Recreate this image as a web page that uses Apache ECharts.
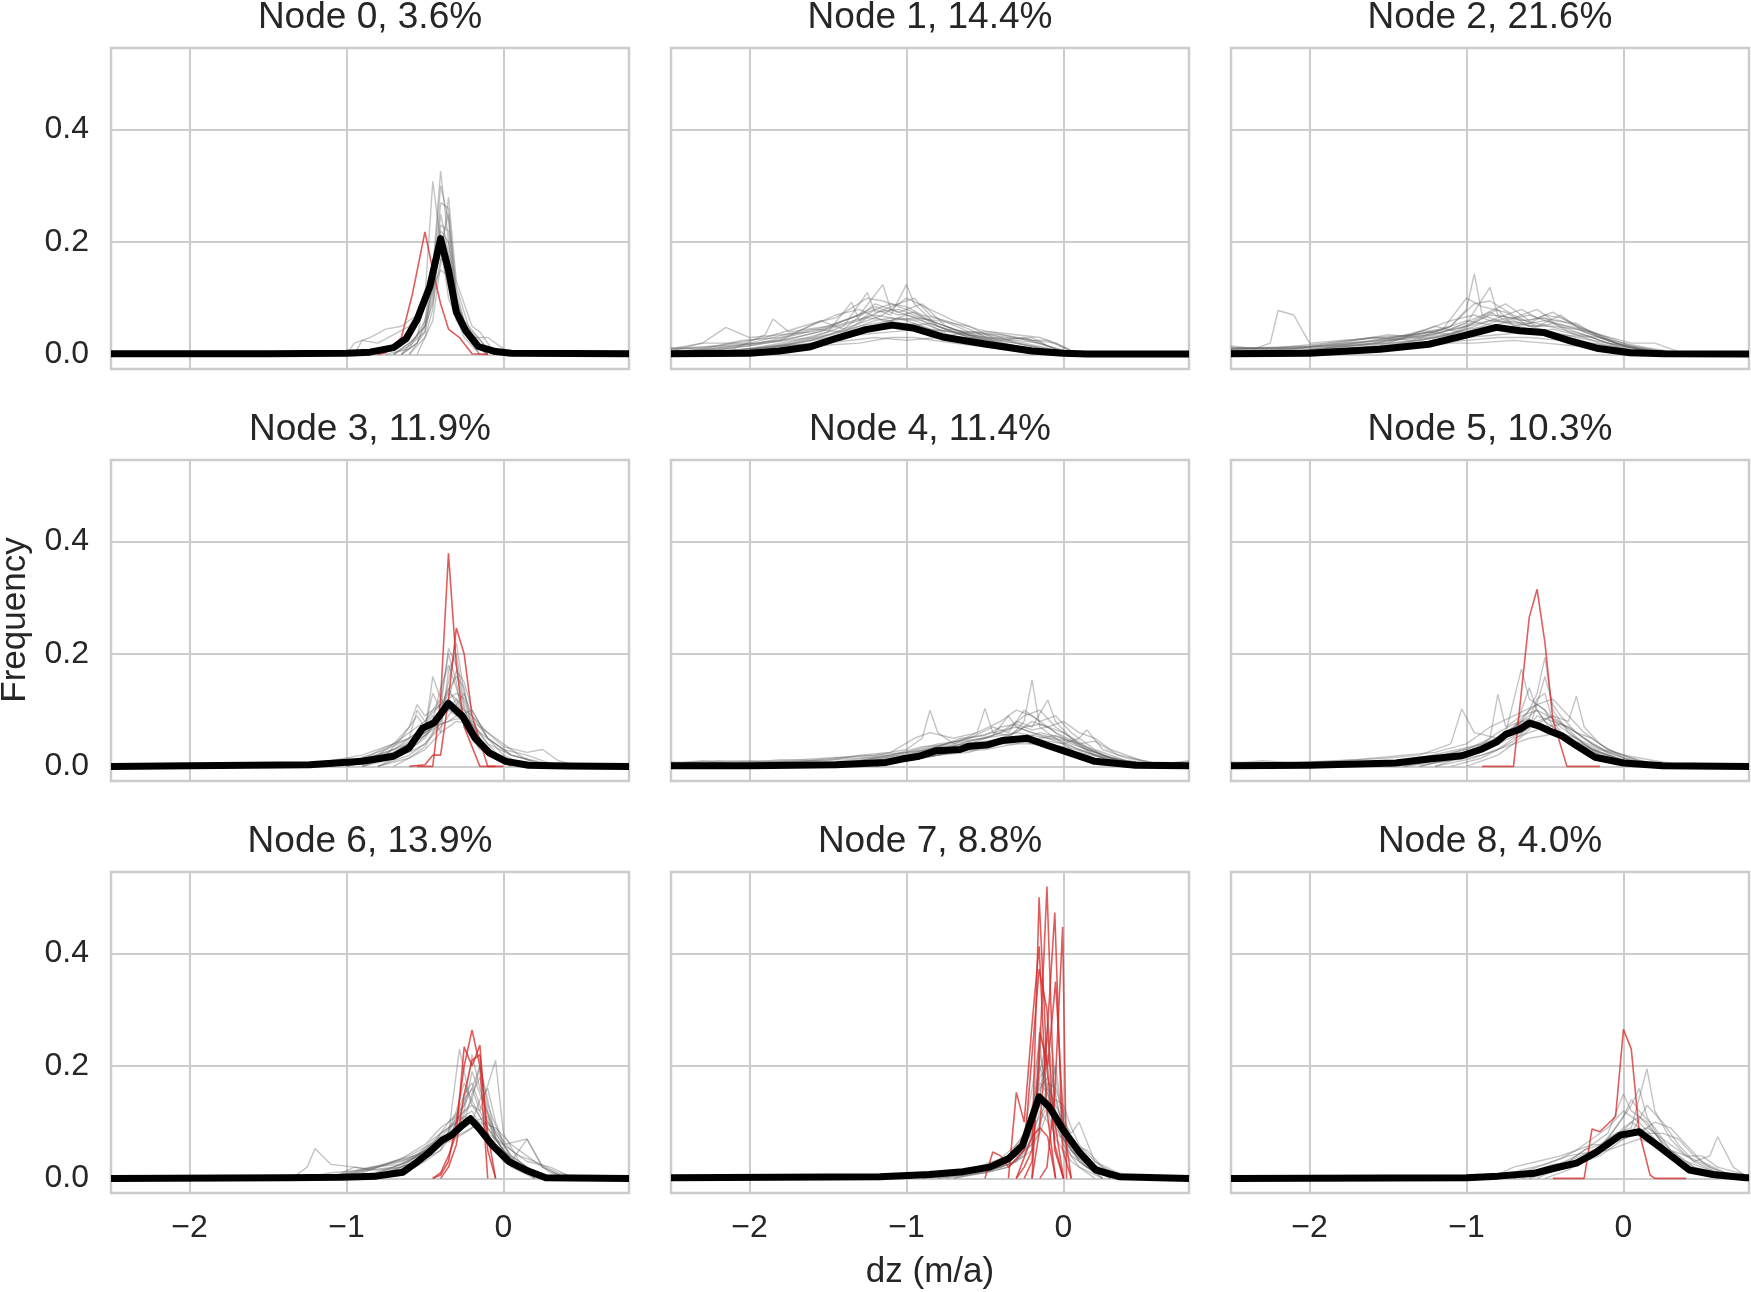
<!DOCTYPE html>
<html>
<head>
<meta charset="utf-8">
<title>Node histograms</title>
<script src="https://cdn.jsdelivr.net/npm/echarts@6/dist/echarts.min.js"></script>
<style>
  html, body { margin: 0; padding: 0; background: #fff; }
  #main { width: 1751px; height: 1292px; }
</style>
</head>
<body>
<div id="main"></div>
<script>
// panel titles
const titles = ['Node 0, 3.6%', 'Node 1, 14.4%', 'Node 2, 21.6%',
                'Node 3, 11.9%', 'Node 4, 11.4%', 'Node 5, 10.3%',
                'Node 6, 13.9%', 'Node 7, 8.8%', 'Node 8, 4.0%']
const xTicks = [-2, -1, 0]
const yTicks = [0, 0.2, 0.4]

// mean curve (black) per node, [dz, frequency]
const node0Mean = [[-2.5,0.001],[-1.5,0.001],[-1.0,0.002],[-0.85,0.004],[-0.7,0.012],[-0.62,0.028],[-0.55,0.062],[-0.47,0.12],[-0.4,0.206],[-0.35,0.15],[-0.3,0.075],[-0.24,0.042],[-0.16,0.014],[-0.05,0.005],[0.05,0.002],[0.8,0.001]]
const node1Mean = [[-2.5,0.001],[-2.0,0.002],[-1.81,0.006],[-1.62,0.013],[-1.43,0.03],[-1.26,0.044],[-1.09,0.052],[-0.96,0.047],[-0.77,0.031],[-0.49,0.018],[-0.2,0.006],[0,0.002],[0.15,0.0005],[0.8,0.0005]]
const node2Mean = [[-2.5,0.001],[-2.0,0.002],[-1.55,0.009],[-1.24,0.018],[-1.02,0.033],[-0.81,0.048],[-0.66,0.042],[-0.51,0.039],[-0.34,0.024],[-0.17,0.011],[0.04,0.003],[0.26,0.001],[0.8,0.0005]]
const node3Mean = [[-2.5,0],[-2.0,0.001],[-1.235,0.003],[-0.9,0.009],[-0.7,0.018],[-0.6,0.033],[-0.515,0.068],[-0.44,0.078],[-0.35,0.112],[-0.26,0.089],[-0.18,0.05],[-0.09,0.024],[0.015,0.009],[0.16,0.002],[0.4,0.0005],[0.8,0]]
const node4Mean = [[-2.5,0.001],[-2.0,0.001],[-1.45,0.003],[-1.13,0.007],[-1.03,0.013],[-0.92,0.018],[-0.81,0.028],[-0.66,0.03],[-0.6,0.036],[-0.49,0.038],[-0.39,0.046],[-0.23,0.05],[-0.11,0.038],[0.04,0.024],[0.2,0.009],[0.46,0.002],[0.8,0.001]]
const node5Mean = [[-2.5,0.001],[-2.0,0.002],[-1.45,0.006],[-1.24,0.013],[-1.03,0.019],[-0.9,0.031],[-0.81,0.043],[-0.75,0.057],[-0.66,0.066],[-0.6,0.077],[-0.54,0.072],[-0.47,0.063],[-0.39,0.054],[-0.3,0.037],[-0.18,0.016],[0,0.006],[0.25,0.001],[0.8,0]]
const node6Mean = [[-2.5,0],[-1.39,0.001],[-1.03,0.002],[-0.81,0.004],[-0.64,0.011],[-0.56,0.027],[-0.47,0.047],[-0.39,0.068],[-0.33,0.077],[-0.26,0.095],[-0.21,0.106],[-0.155,0.089],[-0.07,0.059],[0.035,0.03],[0.14,0.015],[0.27,0.001],[0.8,0]]
const node7Mean = [[-2.5,0.001],[-1.17,0.003],[-0.855,0.007],[-0.64,0.012],[-0.47,0.02],[-0.35,0.035],[-0.26,0.059],[-0.21,0.1],[-0.155,0.145],[-0.09,0.127],[-0.005,0.088],[0.1,0.047],[0.205,0.015],[0.355,0.003],[0.8,0]]
const node8Mean = [[-2.5,0],[-1.0,0.001],[-0.8,0.004],[-0.57,0.009],[-0.44,0.018],[-0.3,0.027],[-0.17,0.047],[-0.02,0.077],[0.1,0.083],[0.23,0.056],[0.42,0.015],[0.57,0.007],[0.78,0.001],[0.8,0.001]]

// highlighted members (red)
const node0Red = [
  [[-0.8,0],[-0.75,0.003],[-0.65,0.03],[-0.58,0.107],[-0.5,0.218],[-0.45,0.15],[-0.4,0.09],[-0.35,0.045],[-0.28,0.03],[-0.2,0.001],[-0.1,0]]
]
const node3Red = [
  [[-0.55,0],[-0.45,0],[-0.4,0.12],[-0.35,0.379],[-0.3,0.18],[-0.25,0.07],[-0.15,0],[-0.05,0]],
  [[-0.6,0],[-0.5,0.003],[-0.45,0.02],[-0.4,0.02],[-0.35,0.12],[-0.3,0.246],[-0.25,0.2],[-0.2,0.09],[-0.1,0],[0,0]]
]
const node5Red = [
  [[-0.9,0],[-0.7,0],[-0.6,0.265],[-0.55,0.315],[-0.5,0.22],[-0.45,0.084],[-0.36,0],[-0.15,0]]
]
const node6Red = [
  [[-0.45,0],[-0.4,0.01],[-0.35,0.04],[-0.3,0.08],[-0.25,0.234],[-0.2,0.2],[-0.15,0.237],[-0.1,0.05],[-0.05,0]],
  [[-0.45,0],[-0.4,0.006],[-0.35,0.03],[-0.3,0.1],[-0.25,0.2],[-0.2,0.264],[-0.15,0.2],[-0.1,0]],
  [[-0.4,0],[-0.35,0.02],[-0.3,0.06],[-0.25,0.15],[-0.2,0.21],[-0.15,0.22],[-0.1,0.08],[-0.05,0]]
]
const node7Red = [
  [[-0.3,0],[-0.25,0.02],[-0.2,0.05],[-0.155,0.5],[-0.105,0.2],[-0.055,0.06],[0,0]],
  [[-0.25,0],[-0.2,0.03],[-0.155,0.2],[-0.105,0.519],[-0.055,0.1],[0,0]],
  [[-0.2,0],[-0.155,0.08],[-0.105,0.25],[-0.055,0.473],[-0.005,0.05],[0.05,0]],
  [[-0.15,0],[-0.105,0.02],[-0.055,0.15],[-0.005,0.447],[0.02,0]],
  [[-0.35,0],[-0.3,0.153],[-0.25,0.1],[-0.2,0.274],[-0.155,0.413],[-0.105,0.12],[-0.05,0]],
  [[-0.5,0],[-0.45,0.047],[-0.4,0.04],[-0.35,0.02],[-0.25,0.05],[-0.155,0.372],[-0.105,0.3],[-0.055,0.05],[0,0]],
  [[-0.2,0],[-0.15,0.26],[-0.1,0.2],[-0.05,0.35],[0,0.1],[0.05,0]],
  [[-0.3,0],[-0.2,0.074],[-0.15,0.09],[-0.1,0.074],[-0.05,0]]
]
const node8Red = [
  [[-0.45,0],[-0.25,0],[-0.2,0.088],[-0.15,0.083],[-0.05,0.11],[0,0.265],[0.05,0.23],[0.1,0.083],[0.17,0.006],[0.2,0],[0.4,0]]
]

// other members (grey)
const node0Gray = [
  [[-0.75,0],[-0.6,0.01],[-0.5,0.06],[-0.45,0.15],[-0.4,0.326],[-0.35,0.2],[-0.3,0.08],[-0.2,0.02],[-0.1,0]],
  [[-0.7,0],[-0.55,0.03],[-0.5,0.1],[-0.45,0.308],[-0.4,0.2],[-0.35,0.1],[-0.25,0.03],[-0.15,0]],
  [[-0.65,0],[-0.5,0.05],[-0.45,0.12],[-0.4,0.27],[-0.35,0.26],[-0.3,0.1],[-0.2,0.02],[-0.1,0]],
  [[-1.0,0],[-0.95,0.02],[-0.85,0.03],[-0.75,0.045],[-0.65,0.05],[-0.55,0.07],[-0.45,0.13],[-0.4,0.18],[-0.35,0.12],[-0.3,0.06],[-0.2,0.02],[-0.1,0]],
  [[-0.95,0],[-0.9,0.025],[-0.8,0.02],[-0.7,0.035],[-0.6,0.05],[-0.5,0.09],[-0.4,0.15],[-0.35,0.14],[-0.25,0.05],[-0.15,0.01],[-0.05,0]],
  [[-0.6,0],[-0.5,0.03],[-0.45,0.08],[-0.4,0.23],[-0.35,0.22],[-0.3,0.11],[-0.25,0.06],[-0.1,0.01],[0,0]],
  [[-0.6,0],[-0.5,0.04],[-0.45,0.1],[-0.4,0.25],[-0.35,0.18],[-0.3,0.07],[-0.2,0.04],[-0.1,0.01],[0,0]],
  [[-0.55,0],[-0.45,0.06],[-0.4,0.16],[-0.35,0.28],[-0.3,0.13],[-0.2,0.05],[-0.15,0.04],[-0.05,0]],
  [[-0.65,0],[-0.55,0.02],[-0.5,0.05],[-0.45,0.09],[-0.4,0.17],[-0.35,0.16],[-0.3,0.09],[-0.2,0.03],[-0.1,0.03],[0.05,0]],
  [[-0.7,0],[-0.6,0.015],[-0.5,0.04],[-0.45,0.14],[-0.4,0.3],[-0.35,0.24],[-0.3,0.08],[-0.25,0.04],[-0.15,0]],
  [[-0.65,0],[-0.55,0.02],[-0.5,0.06],[-0.45,0.12],[-0.4,0.22],[-0.35,0.2],[-0.3,0.1],[-0.25,0.05],[-0.15,0.01],[-0.05,0]],
  [[-0.7,0],[-0.6,0.02],[-0.5,0.05],[-0.45,0.11],[-0.4,0.19],[-0.35,0.25],[-0.3,0.12],[-0.2,0.03],[-0.1,0]]
]
const node1Gray = [
  [[-2.5,0.01],[-2.3,0.02],[-2.15,0.048],[-2.0,0.03],[-1.8,0.035],[-1.6,0.04],[-1.4,0.055],[-1.2,0.07],[-1.0,0.06],[-0.8,0.04],[-0.6,0.02],[-0.4,0.01],[-0.2,0.005],[0,0]],
  [[-2.5,0.005],[-2.1,0.01],[-1.9,0.035],[-1.85,0.063],[-1.75,0.04],[-1.5,0.05],[-1.3,0.07],[-1.15,0.124],[-1.1,0.08],[-0.9,0.06],[-0.7,0.03],[-0.4,0.015],[0,0.002]],
  [[-2.4,0],[-2.0,0.01],[-1.7,0.025],[-1.5,0.04],[-1.35,0.093],[-1.3,0.06],[-1.2,0.08],[-1.1,0.07],[-1.0,0.124],[-0.95,0.09],[-0.8,0.05],[-0.6,0.03],[-0.3,0.02],[0,0.003]],
  [[-2.5,0.003],[-2.2,0.008],[-1.9,0.02],[-1.6,0.03],[-1.4,0.05],[-1.25,0.11],[-1.2,0.075],[-1.05,0.08],[-0.9,0.065],[-0.7,0.045],[-0.5,0.03],[-0.3,0.02],[-0.1,0.01],[0.1,0]],
  [[-2.5,0.002],[-2.0,0.015],[-1.7,0.03],[-1.5,0.045],[-1.3,0.06],[-1.1,0.085],[-0.95,0.1],[-0.85,0.07],[-0.6,0.04],[-0.4,0.035],[-0.2,0.025],[-0.05,0.02],[0.1,0]],
  [[-2.4,0],[-2.0,0.005],[-1.6,0.02],[-1.3,0.035],[-1.1,0.04],[-0.9,0.045],[-0.7,0.04],[-0.5,0.03],[-0.3,0.025],[-0.15,0.02],[0.05,0]],
  [[-2.5,0.004],[-2.2,0.012],[-1.8,0.025],[-1.55,0.06],[-1.4,0.045],[-1.2,0.09],[-1.05,0.075],[-0.9,0.09],[-0.75,0.05],[-0.5,0.025],[-0.2,0.01],[0,0]],
  [[-2.3,0],[-1.9,0.01],[-1.6,0.025],[-1.35,0.05],[-1.15,0.07],[-1.0,0.1],[-0.85,0.08],[-0.7,0.06],[-0.55,0.045],[-0.3,0.03],[-0.1,0.015],[0.1,0]],
  [[-2.5,0.006],[-2.3,0.02],[-2.0,0.02],[-1.7,0.04],[-1.45,0.07],[-1.3,0.08],[-1.15,0.06],[-1.0,0.055],[-0.8,0.035],[-0.5,0.02],[-0.3,0.008],[0,0]],
  [[-2.4,0],[-1.8,0.015],[-1.5,0.02],[-1.2,0.03],[-1.0,0.025],[-0.8,0.03],[-0.6,0.04],[-0.45,0.04],[-0.3,0.035],[-0.15,0.03],[-0.05,0.02],[0.1,0]],
  [[-2.5,0.01],[-2.2,0.015],[-1.9,0.03],[-1.6,0.055],[-1.45,0.065],[-1.25,0.1],[-1.15,0.095],[-1.0,0.08],[-0.8,0.055],[-0.6,0.035],[-0.35,0.015],[0,0]],
  [[-2.3,0],[-1.9,0.008],[-1.6,0.015],[-1.3,0.02],[-1.1,0.03],[-0.95,0.03],[-0.7,0.02],[-0.4,0.01],[0,0]],
  [[-2.5,0.008],[-2.2,0.015],[-1.95,0.02],[-1.7,0.035],[-1.5,0.05],[-1.35,0.065],[-1.2,0.085],[-1.05,0.07],[-0.95,0.075],[-0.8,0.05],[-0.6,0.03],[-0.4,0.02],[-0.2,0.01],[0,0.002]],
  [[-2.5,0.002],[-2.1,0.006],[-1.8,0.015],[-1.55,0.03],[-1.35,0.045],[-1.2,0.06],[-1.1,0.065],[-0.95,0.06],[-0.8,0.045],[-0.65,0.035],[-0.45,0.03],[-0.25,0.02],[-0.05,0.008],[0.1,0]],
  [[-2.4,0],[-2.0,0.01],[-1.7,0.02],[-1.5,0.03],[-1.3,0.045],[-1.15,0.055],[-1.0,0.05],[-0.85,0.055],[-0.7,0.04],[-0.55,0.03],[-0.4,0.025],[-0.25,0.03],[-0.15,0.02],[0,0.005]],
  [[-2.5,0.005],[-2.25,0.01],[-2.0,0.018],[-1.75,0.028],[-1.55,0.04],[-1.4,0.06],[-1.25,0.075],[-1.1,0.09],[-1.0,0.085],[-0.9,0.07],[-0.75,0.06],[-0.6,0.045],[-0.45,0.025],[-0.3,0.015],[0,0]],
  [[-2.5,0.004],[-2.0,0.008],[-1.75,0.02],[-1.5,0.035],[-1.3,0.05],[-1.1,0.06],[-0.95,0.065],[-0.8,0.06],[-0.6,0.05],[-0.45,0.03],[-0.3,0.028],[-0.2,0.03],[-0.1,0.015],[0.05,0]],
  [[-2.3,0],[-2.0,0.005],[-1.7,0.012],[-1.45,0.025],[-1.25,0.04],[-1.1,0.05],[-0.95,0.055],[-0.85,0.045],[-0.7,0.04],[-0.5,0.035],[-0.35,0.03],[-0.2,0.025],[-0.1,0.025],[0.05,0.005],[0.15,0]],
  [[-2.5,0.012],[-2.3,0.01],[-2.05,0.025],[-1.8,0.03],[-1.6,0.045],[-1.4,0.04],[-1.25,0.065],[-1.1,0.06],[-1.0,0.07],[-0.85,0.06],[-0.65,0.04],[-0.5,0.02],[-0.3,0.01],[0,0]],
  [[-2.5,0.003],[-2.2,0.005],[-1.9,0.012],[-1.6,0.02],[-1.4,0.03],[-1.2,0.05],[-1.05,0.065],[-0.9,0.06],[-0.75,0.045],[-0.6,0.04],[-0.45,0.035],[-0.3,0.02],[-0.15,0.01],[0.05,0]]
]
const node2Gray = [
  [[-2.5,0.015],[-2.35,0.01],[-2.25,0.02],[-2.2,0.078],[-2.1,0.07],[-2.0,0.02],[-1.8,0.025],[-1.5,0.03],[-1.2,0.04],[-1.0,0.06],[-0.8,0.05],[-0.5,0.04],[-0.2,0.02],[0.1,0.005],[0.3,0]],
  [[-2.5,0.01],[-2.0,0.015],[-1.6,0.03],[-1.3,0.035],[-1.1,0.05],[-1.0,0.08],[-0.95,0.143],[-0.9,0.07],[-0.8,0.06],[-0.6,0.045],[-0.4,0.03],[-0.2,0.015],[0.1,0]],
  [[-2.5,0.005],[-2.0,0.008],[-1.7,0.02],[-1.4,0.03],[-1.2,0.035],[-1.0,0.055],[-0.85,0.119],[-0.8,0.07],[-0.65,0.06],[-0.5,0.065],[-0.35,0.04],[-0.15,0.02],[0.1,0.003],[0.3,0]],
  [[-2.5,0.012],[-2.2,0.01],[-1.9,0.015],[-1.6,0.025],[-1.35,0.035],[-1.1,0.045],[-0.9,0.07],[-0.75,0.09],[-0.6,0.06],[-0.45,0.075],[-0.3,0.05],[-0.1,0.025],[0.1,0.01],[0.35,0]],
  [[-2.5,0],[-2.0,0.005],[-1.5,0.015],[-1.2,0.03],[-1.0,0.04],[-0.8,0.06],[-0.6,0.055],[-0.5,0.07],[-0.4,0.065],[-0.2,0.04],[0,0.015],[0.2,0.005],[0.4,0]],
  [[-2.5,0.008],[-2.1,0.005],[-1.8,0.015],[-1.5,0.02],[-1.3,0.04],[-1.15,0.045],[-1.0,0.1],[-0.9,0.085],[-0.75,0.075],[-0.6,0.05],[-0.4,0.035],[-0.2,0.03],[0,0.01],[0.3,0]],
  [[-2.5,0.003],[-2.0,0.008],[-1.7,0.01],[-1.4,0.02],[-1.2,0.02],[-1.0,0.025],[-0.8,0.03],[-0.6,0.03],[-0.4,0.025],[-0.2,0.02],[0,0.01],[0.25,0]],
  [[-2.4,0],[-1.9,0.01],[-1.6,0.02],[-1.4,0.03],[-1.2,0.05],[-1.05,0.04],[-0.9,0.065],[-0.8,0.08],[-0.7,0.05],[-0.5,0.06],[-0.3,0.045],[-0.15,0.035],[0.05,0.02],[0.2,0.02],[0.4,0]],
  [[-2.5,0.01],[-2.2,0.012],[-1.9,0.02],[-1.6,0.03],[-1.35,0.025],[-1.15,0.04],[-1.0,0.05],[-0.85,0.07],[-0.7,0.065],[-0.55,0.08],[-0.45,0.06],[-0.3,0.055],[-0.15,0.03],[0.05,0.01],[0.3,0]],
  [[-2.4,0],[-1.8,0.005],[-1.4,0.01],[-1.1,0.02],[-0.95,0.02],[-0.7,0.025],[-0.5,0.02],[-0.3,0.015],[0,0.005],[0.2,0]],
  [[-2.5,0.006],[-2.1,0.01],[-1.8,0.02],[-1.5,0.035],[-1.3,0.03],[-1.1,0.05],[-0.95,0.09],[-0.85,0.095],[-0.7,0.07],[-0.55,0.05],[-0.4,0.07],[-0.25,0.04],[-0.05,0.02],[0.15,0.01],[0.4,0]],
  [[-2.5,0.01],[-2.2,0.012],[-1.9,0.015],[-1.6,0.02],[-1.35,0.03],[-1.15,0.04],[-1.0,0.05],[-0.85,0.06],[-0.7,0.055],[-0.55,0.05],[-0.45,0.055],[-0.3,0.04],[-0.15,0.025],[0.05,0.008],[0.3,0]],
  [[-2.5,0.004],[-2.0,0.006],[-1.7,0.012],[-1.4,0.022],[-1.2,0.03],[-1.0,0.045],[-0.85,0.05],[-0.7,0.06],[-0.6,0.05],[-0.45,0.05],[-0.3,0.045],[-0.15,0.03],[0,0.015],[0.2,0.003],[0.4,0]],
  [[-2.5,0.006],[-2.2,0.008],[-1.9,0.012],[-1.6,0.018],[-1.3,0.025],[-1.1,0.035],[-0.95,0.06],[-0.85,0.075],[-0.75,0.06],[-0.6,0.07],[-0.5,0.06],[-0.35,0.05],[-0.2,0.04],[-0.05,0.02],[0.15,0.005],[0.35,0]],
  [[-2.5,0.012],[-2.1,0.01],[-1.8,0.02],[-1.5,0.025],[-1.25,0.03],[-1.05,0.04],[-0.9,0.045],[-0.75,0.05],[-0.6,0.045],[-0.45,0.04],[-0.3,0.03],[-0.1,0.02],[0.1,0.01],[0.3,0.003],[0.5,0]],
  [[-2.4,0],[-2.0,0.008],[-1.7,0.015],[-1.45,0.025],[-1.25,0.04],[-1.1,0.035],[-0.95,0.05],[-0.8,0.065],[-0.65,0.08],[-0.55,0.065],[-0.4,0.06],[-0.25,0.045],[-0.1,0.03],[0.05,0.015],[0.25,0.005],[0.45,0]],
  [[-2.5,0.002],[-2.2,0.004],[-1.8,0.01],[-1.5,0.015],[-1.2,0.02],[-1.0,0.03],[-0.8,0.035],[-0.6,0.04],[-0.45,0.045],[-0.3,0.035],[-0.15,0.03],[0,0.02],[0.15,0.012],[0.35,0.003],[0.55,0]],
  [[-2.5,0.008],[-2.3,0.01],[-2.0,0.012],[-1.7,0.02],[-1.45,0.03],[-1.25,0.045],[-1.1,0.06],[-0.95,0.07],[-0.85,0.06],[-0.7,0.065],[-0.55,0.055],[-0.4,0.045],[-0.25,0.035],[-0.1,0.02],[0.1,0.01],[0.3,0]]
]
const node3Gray = [
  [[-1.3,0],[-1.0,0.005],[-0.8,0.02],[-0.7,0.04],[-0.6,0.06],[-0.5,0.08],[-0.45,0.1],[-0.4,0.12],[-0.35,0.2],[-0.3,0.15],[-0.25,0.07],[-0.15,0.03],[0,0.01],[0.2,0]],
  [[-1.1,0],[-0.9,0.01],[-0.75,0.02],[-0.65,0.05],[-0.55,0.09],[-0.5,0.07],[-0.45,0.13],[-0.4,0.1],[-0.35,0.14],[-0.3,0.11],[-0.2,0.06],[-0.1,0.02],[0.05,0.005],[0.2,0]],
  [[-0.9,0],[-0.75,0.01],[-0.6,0.03],[-0.5,0.05],[-0.4,0.09],[-0.35,0.15],[-0.3,0.22],[-0.25,0.13],[-0.2,0.08],[-0.1,0.04],[0,0.01],[0.15,0]],
  [[-1.0,0],[-0.8,0.015],[-0.7,0.03],[-0.6,0.045],[-0.5,0.06],[-0.4,0.08],[-0.35,0.11],[-0.3,0.1],[-0.25,0.09],[-0.15,0.06],[-0.05,0.04],[0.05,0.02],[0.2,0.01],[0.35,0]],
  [[-1.2,0],[-1.0,0.008],[-0.8,0.02],[-0.6,0.04],[-0.5,0.06],[-0.45,0.16],[-0.4,0.12],[-0.35,0.1],[-0.3,0.09],[-0.2,0.07],[-0.1,0.03],[0.05,0.01],[0.2,0]],
  [[-0.8,0],[-0.6,0.02],[-0.5,0.04],[-0.45,0.06],[-0.4,0.1],[-0.35,0.21],[-0.3,0.18],[-0.25,0.1],[-0.15,0.05],[-0.05,0.02],[0.1,0]],
  [[-1.0,0],[-0.85,0.01],[-0.7,0.025],[-0.55,0.05],[-0.45,0.07],[-0.35,0.08],[-0.3,0.09],[-0.2,0.1],[-0.1,0.05],[0,0.03],[0.15,0.02],[0.35,0]],
  [[-0.9,0],[-0.7,0.02],[-0.6,0.035],[-0.5,0.055],[-0.4,0.09],[-0.35,0.12],[-0.3,0.13],[-0.25,0.12],[-0.2,0.07],[-0.1,0.03],[0.05,0.01],[0.3,0]],
  [[-1.2,0],[-0.95,0.01],[-0.75,0.03],[-0.6,0.05],[-0.55,0.1],[-0.5,0.08],[-0.4,0.11],[-0.3,0.16],[-0.25,0.14],[-0.2,0.06],[-0.1,0.02],[0.1,0]],
  [[-0.8,0],[-0.65,0.02],[-0.55,0.04],[-0.45,0.07],[-0.35,0.1],[-0.3,0.12],[-0.25,0.1],[-0.2,0.09],[-0.1,0.06],[0,0.04],[0.1,0.02],[0.2,0.005],[0.4,0]],
  [[-0.7,0],[-0.5,0.03],[-0.4,0.06],[-0.35,0.17],[-0.3,0.2],[-0.25,0.11],[-0.2,0.05],[-0.1,0.02],[0.05,0]],
  [[-1.1,0],[-0.9,0.012],[-0.7,0.03],[-0.55,0.06],[-0.45,0.09],[-0.4,0.06],[-0.3,0.08],[-0.2,0.075],[-0.1,0.04],[0.05,0.02],[0.25,0.005],[0.4,0]],
  [[-1.4,0],[-1.1,0.01],[-0.9,0.02],[-0.75,0.035],[-0.6,0.05],[-0.5,0.07],[-0.4,0.1],[-0.35,0.13],[-0.3,0.12],[-0.25,0.08],[-0.15,0.04],[-0.05,0.02],[0.1,0.005],[0.3,0]],
  [[-1.0,0],[-0.8,0.012],[-0.65,0.03],[-0.55,0.045],[-0.45,0.08],[-0.4,0.14],[-0.35,0.18],[-0.3,0.14],[-0.25,0.09],[-0.15,0.04],[0,0.01],[0.2,0]],
  [[-0.9,0],[-0.75,0.015],[-0.6,0.025],[-0.5,0.04],[-0.4,0.07],[-0.35,0.09],[-0.3,0.11],[-0.25,0.13],[-0.2,0.09],[-0.1,0.05],[0.05,0.02],[0.2,0.008],[0.35,0]],
  [[-1.1,0],[-0.85,0.02],[-0.7,0.04],[-0.6,0.07],[-0.55,0.11],[-0.5,0.09],[-0.45,0.1],[-0.35,0.12],[-0.3,0.1],[-0.2,0.05],[-0.1,0.02],[0.05,0]],
  [[-0.8,0],[-0.6,0.015],[-0.5,0.035],[-0.4,0.08],[-0.35,0.12],[-0.3,0.17],[-0.25,0.15],[-0.2,0.1],[-0.1,0.05],[0,0.02],[0.15,0]],
  [[-1.2,0],[-1.0,0.006],[-0.85,0.015],[-0.7,0.025],[-0.6,0.04],[-0.5,0.055],[-0.4,0.075],[-0.3,0.085],[-0.2,0.08],[-0.1,0.06],[0,0.035],[0.15,0.025],[0.25,0.03],[0.35,0.01],[0.5,0]]
]
const node4Gray = [
  [[-2.5,0.005],[-2.2,0.01],[-1.9,0.008],[-1.5,0.015],[-1.2,0.02],[-1.0,0.03],[-0.9,0.05],[-0.85,0.1],[-0.8,0.06],[-0.7,0.04],[-0.5,0.05],[-0.3,0.06],[-0.1,0.05],[0.1,0.03],[0.3,0.01],[0.5,0]],
  [[-1.8,0],[-1.4,0.01],[-1.1,0.02],[-0.9,0.035],[-0.7,0.04],[-0.55,0.06],[-0.5,0.103],[-0.45,0.06],[-0.3,0.07],[-0.2,0.06],[-0.05,0.05],[0.1,0.02],[0.3,0.005],[0.5,0]],
  [[-1.6,0],[-1.2,0.01],[-0.9,0.02],[-0.7,0.03],[-0.5,0.04],[-0.35,0.05],[-0.25,0.08],[-0.2,0.154],[-0.15,0.07],[-0.05,0.05],[0.1,0.03],[0.3,0.01],[0.5,0]],
  [[-1.5,0],[-1.2,0.015],[-1.0,0.02],[-0.8,0.035],[-0.6,0.04],[-0.4,0.06],[-0.3,0.08],[-0.2,0.07],[-0.1,0.118],[-0.05,0.08],[0.05,0.05],[0.15,0.03],[0.3,0.015],[0.5,0]],
  [[-1.4,0],[-1.0,0.01],[-0.8,0.02],[-0.6,0.03],[-0.4,0.04],[-0.2,0.05],[0,0.04],[0.1,0.05],[0.15,0.065],[0.25,0.03],[0.4,0.015],[0.6,0.005],[0.8,0.008]],
  [[-1.6,0],[-1.3,0.01],[-1.0,0.025],[-0.8,0.04],[-0.65,0.045],[-0.5,0.05],[-0.35,0.065],[-0.25,0.09],[-0.15,0.1],[-0.05,0.07],[0.1,0.04],[0.25,0.02],[0.45,0.005],[0.6,0]],
  [[-1.2,0],[-0.9,0.015],[-0.7,0.025],[-0.5,0.03],[-0.3,0.04],[-0.15,0.04],[0,0.035],[0.15,0.025],[0.35,0.01],[0.6,0.003],[0.8,0.01]],
  [[-2.5,0.005],[-2.3,0.01],[-2.1,0.005],[-1.8,0.012],[-1.5,0.01],[-1.3,0.02],[-1.1,0.025],[-0.95,0.05],[-0.85,0.06],[-0.7,0.05],[-0.55,0.06],[-0.4,0.08],[-0.3,0.1],[-0.2,0.09],[-0.05,0.06],[0.1,0.04],[0.25,0.02],[0.4,0.005],[0.6,0]],
  [[-1.5,0],[-1.2,0.012],[-0.95,0.02],[-0.75,0.04],[-0.6,0.05],[-0.45,0.07],[-0.35,0.06],[-0.25,0.1],[-0.15,0.08],[-0.05,0.09],[0.05,0.06],[0.2,0.03],[0.4,0.01],[0.7,0]],
  [[-1.3,0],[-1.0,0.01],[-0.8,0.02],[-0.6,0.025],[-0.45,0.04],[-0.3,0.045],[-0.15,0.06],[0,0.05],[0.1,0.04],[0.2,0.045],[0.35,0.02],[0.55,0.008],[0.8,0.005]],
  [[-2.5,0.003],[-2.0,0.005],[-1.6,0.01],[-1.3,0.015],[-1.1,0.02],[-0.9,0.03],[-0.75,0.04],[-0.6,0.05],[-0.45,0.06],[-0.35,0.055],[-0.25,0.07],[-0.15,0.075],[0,0.06],[0.15,0.035],[0.3,0.015],[0.5,0.005],[0.8,0]],
  [[-1.7,0],[-1.4,0.008],[-1.15,0.015],[-0.95,0.025],[-0.8,0.035],[-0.65,0.05],[-0.5,0.055],[-0.4,0.07],[-0.3,0.075],[-0.2,0.065],[-0.1,0.07],[0,0.05],[0.15,0.03],[0.35,0.01],[0.6,0]],
  [[-1.5,0],[-1.2,0.01],[-1.0,0.015],[-0.8,0.02],[-0.6,0.035],[-0.45,0.045],[-0.3,0.06],[-0.2,0.08],[-0.1,0.07],[0,0.08],[0.1,0.06],[0.2,0.05],[0.3,0.03],[0.5,0.01],[0.7,0]],
  [[-2.5,0.008],[-2.3,0.006],[-2.0,0.01],[-1.7,0.008],[-1.45,0.015],[-1.2,0.02],[-1.0,0.025],[-0.8,0.03],[-0.65,0.04],[-0.5,0.045],[-0.35,0.05],[-0.2,0.04],[-0.05,0.03],[0.1,0.025],[0.3,0.012],[0.55,0.005],[0.8,0.003]],
  [[-1.4,0],[-1.1,0.012],[-0.9,0.025],[-0.75,0.03],[-0.6,0.045],[-0.45,0.055],[-0.35,0.09],[-0.3,0.07],[-0.2,0.06],[-0.1,0.05],[0.05,0.045],[0.2,0.02],[0.4,0.008],[0.6,0]],
  [[-1.2,0],[-1.0,0.01],[-0.8,0.02],[-0.6,0.03],[-0.4,0.04],[-0.3,0.04],[-0.15,0.05],[-0.05,0.055],[0.05,0.04],[0.15,0.03],[0.25,0.02],[0.4,0.01],[0.6,0.005],[0.8,0]]
]
const node5Gray = [
  [[-2.5,0.005],[-2.3,0.01],[-2.1,0.006],[-1.8,0.01],[-1.5,0.015],[-1.3,0.02],[-1.1,0.04],[-1.03,0.102],[-0.95,0.06],[-0.8,0.05],[-0.6,0.08],[-0.5,0.07],[-0.35,0.04],[-0.2,0.02],[0,0.005],[0.2,0]],
  [[-1.6,0],[-1.3,0.01],[-1.0,0.03],[-0.85,0.05],[-0.8,0.128],[-0.75,0.07],[-0.65,0.09],[-0.55,0.1],[-0.45,0.06],[-0.3,0.04],[-0.1,0.02],[0.1,0]],
  [[-1.4,0],[-1.1,0.015],[-0.9,0.03],[-0.75,0.06],[-0.65,0.173],[-0.6,0.12],[-0.5,0.1],[-0.4,0.07],[-0.3,0.05],[-0.15,0.02],[0.05,0]],
  [[-1.5,0],[-1.2,0.01],[-1.0,0.025],[-0.85,0.04],[-0.7,0.07],[-0.6,0.1],[-0.55,0.13],[-0.5,0.194],[-0.45,0.1],[-0.35,0.06],[-0.2,0.03],[0,0.01],[0.2,0]],
  [[-1.3,0],[-1.0,0.02],[-0.8,0.04],[-0.65,0.06],[-0.55,0.08],[-0.45,0.09],[-0.35,0.08],[-0.3,0.125],[-0.25,0.07],[-0.15,0.04],[0,0.015],[0.2,0]],
  [[-1.2,0],[-0.95,0.015],[-0.8,0.03],[-0.7,0.045],[-0.6,0.07],[-0.55,0.09],[-0.45,0.08],[-0.35,0.07],[-0.2,0.04],[-0.05,0.02],[0.15,0.005],[0.35,0]],
  [[-1.6,0],[-1.3,0.008],[-1.0,0.02],[-0.8,0.05],[-0.7,0.06],[-0.6,0.14],[-0.55,0.1],[-0.45,0.085],[-0.35,0.07],[-0.25,0.05],[-0.1,0.025],[0.1,0.005],[0.3,0]],
  [[-1.4,0],[-1.1,0.01],[-0.9,0.02],[-0.7,0.04],[-0.6,0.05],[-0.5,0.055],[-0.4,0.06],[-0.3,0.05],[-0.15,0.03],[0,0.02],[0.2,0.01],[0.45,0]],
  [[-2.5,0.008],[-2.3,0.005],[-2.0,0.008],[-1.7,0.012],[-1.4,0.02],[-1.2,0.025],[-1.0,0.04],[-0.85,0.07],[-0.7,0.09],[-0.55,0.11],[-0.45,0.12],[-0.35,0.09],[-0.25,0.06],[-0.1,0.03],[0.1,0.01],[0.3,0]],
  [[-1.0,0],[-0.8,0.02],[-0.7,0.04],[-0.6,0.065],[-0.5,0.16],[-0.45,0.11],[-0.4,0.09],[-0.3,0.06],[-0.2,0.04],[-0.05,0.015],[0.1,0]],
  [[-1.5,0],[-1.2,0.012],[-1.0,0.025],[-0.85,0.045],[-0.75,0.06],[-0.65,0.08],[-0.6,0.09],[-0.55,0.1],[-0.5,0.08],[-0.4,0.06],[-0.3,0.045],[-0.15,0.025],[0,0.01],[0.2,0]],
  [[-1.3,0],[-1.05,0.015],[-0.9,0.03],[-0.8,0.045],[-0.7,0.06],[-0.6,0.1],[-0.55,0.11],[-0.5,0.1],[-0.45,0.07],[-0.35,0.05],[-0.2,0.03],[-0.05,0.01],[0.15,0]],
  [[-1.7,0],[-1.4,0.01],[-1.15,0.02],[-0.95,0.035],[-0.8,0.05],[-0.7,0.065],[-0.65,0.08],[-0.55,0.075],[-0.45,0.09],[-0.35,0.065],[-0.25,0.04],[-0.1,0.02],[0.1,0.005],[0.3,0]],
  [[-1.2,0],[-1.0,0.02],[-0.85,0.04],[-0.75,0.055],[-0.65,0.075],[-0.6,0.085],[-0.55,0.12],[-0.5,0.13],[-0.45,0.08],[-0.35,0.045],[-0.25,0.03],[-0.1,0.015],[0.1,0]],
  [[-1.8,0],[-1.5,0.008],[-1.25,0.018],[-1.05,0.03],[-0.9,0.04],[-0.8,0.06],[-0.7,0.075],[-0.6,0.085],[-0.5,0.07],[-0.4,0.05],[-0.3,0.04],[-0.15,0.02],[0.05,0.008],[0.25,0]],
  [[-1.1,0],[-0.9,0.015],[-0.8,0.03],[-0.7,0.05],[-0.6,0.06],[-0.5,0.07],[-0.4,0.075],[-0.3,0.06],[-0.2,0.05],[-0.1,0.03],[0.05,0.015],[0.25,0]]
]
const node6Gray = [
  [[-1.35,0],[-1.25,0.02],[-1.2,0.053],[-1.1,0.025],[-0.95,0.02],[-0.8,0.015],[-0.65,0.02],[-0.5,0.05],[-0.4,0.08],[-0.3,0.1],[-0.2,0.12],[-0.1,0.07],[0,0.03],[0.15,0.01],[0.3,0]],
  [[-1.0,0],[-0.8,0.01],[-0.6,0.025],[-0.45,0.05],[-0.35,0.07],[-0.3,0.1],[-0.25,0.14],[-0.2,0.16],[-0.15,0.12],[-0.05,0.21],[0,0.08],[0.1,0.03],[0.25,0]],
  [[-0.95,0],[-0.8,0.008],[-0.6,0.02],[-0.45,0.06],[-0.35,0.08],[-0.28,0.23],[-0.22,0.15],[-0.15,0.11],[-0.05,0.05],[0.05,0.02],[0.2,0]],
  [[-1.1,0],[-0.9,0.015],[-0.7,0.03],[-0.5,0.045],[-0.4,0.07],[-0.3,0.09],[-0.2,0.14],[-0.15,0.2],[-0.1,0.13],[0,0.06],[0.15,0.07],[0.25,0.02],[0.4,0]],
  [[-0.9,0],[-0.7,0.02],[-0.55,0.04],[-0.45,0.07],[-0.35,0.09],[-0.25,0.12],[-0.2,0.19],[-0.15,0.15],[-0.05,0.08],[0.05,0.04],[0.2,0.01],[0.35,0]],
  [[-1.2,0],[-1.0,0.01],[-0.85,0.02],[-0.65,0.025],[-0.55,0.04],[-0.45,0.055],[-0.35,0.065],[-0.25,0.08],[-0.15,0.1],[-0.05,0.09],[0.05,0.06],[0.15,0.04],[0.3,0.01],[0.45,0]],
  [[-0.8,0],[-0.6,0.015],[-0.5,0.03],[-0.4,0.05],[-0.3,0.12],[-0.25,0.17],[-0.2,0.13],[-0.1,0.09],[0,0.05],[0.1,0.02],[0.25,0]],
  [[-1.0,0],[-0.8,0.02],[-0.65,0.035],[-0.5,0.06],[-0.4,0.09],[-0.3,0.11],[-0.2,0.1],[-0.1,0.11],[-0.05,0.06],[0.05,0.03],[0.15,0.02],[0.3,0]],
  [[-0.85,0],[-0.65,0.02],[-0.5,0.035],[-0.4,0.06],[-0.3,0.08],[-0.2,0.1],[-0.15,0.14],[-0.1,0.16],[-0.05,0.1],[0.05,0.03],[0.15,0.07],[0.25,0.02],[0.4,0]],
  [[-1.1,0],[-0.95,0.02],[-0.85,0.015],[-0.7,0.02],[-0.6,0.03],[-0.45,0.06],[-0.35,0.1],[-0.25,0.13],[-0.2,0.22],[-0.15,0.16],[-0.05,0.07],[0.05,0.03],[0.2,0]],
  [[-1.2,0],[-0.95,0.01],[-0.8,0.02],[-0.65,0.03],[-0.5,0.05],[-0.4,0.075],[-0.3,0.1],[-0.25,0.12],[-0.2,0.13],[-0.15,0.12],[-0.1,0.09],[0,0.05],[0.1,0.025],[0.25,0.005],[0.4,0]],
  [[-1.0,0],[-0.8,0.012],[-0.65,0.025],[-0.5,0.045],[-0.4,0.06],[-0.3,0.085],[-0.25,0.1],[-0.2,0.15],[-0.15,0.18],[-0.1,0.12],[-0.05,0.08],[0.05,0.04],[0.2,0.01],[0.35,0]],
  [[-1.3,0],[-1.1,0.01],[-0.9,0.015],[-0.75,0.025],[-0.6,0.035],[-0.5,0.05],[-0.4,0.065],[-0.3,0.09],[-0.25,0.11],[-0.2,0.1],[-0.1,0.08],[0,0.06],[0.1,0.04],[0.2,0.03],[0.35,0.01],[0.5,0]],
  [[-0.9,0],[-0.7,0.015],[-0.55,0.03],[-0.45,0.055],[-0.35,0.08],[-0.3,0.11],[-0.25,0.15],[-0.2,0.17],[-0.15,0.13],[-0.1,0.1],[0,0.05],[0.1,0.02],[0.3,0]],
  [[-1.1,0],[-0.85,0.015],[-0.7,0.03],[-0.6,0.04],[-0.5,0.055],[-0.4,0.07],[-0.3,0.075],[-0.2,0.09],[-0.1,0.1],[-0.05,0.085],[0.05,0.05],[0.15,0.03],[0.3,0.02],[0.45,0]],
  [[-0.8,0],[-0.6,0.02],[-0.5,0.035],[-0.4,0.05],[-0.35,0.07],[-0.3,0.1],[-0.25,0.13],[-0.2,0.16],[-0.15,0.2],[-0.1,0.14],[-0.05,0.07],[0.05,0.03],[0.2,0]]
]
const node7Gray = [
  [[-1.2,0],[-0.9,0.005],[-0.6,0.01],[-0.45,0.02],[-0.35,0.035],[-0.25,0.06],[-0.2,0.12],[-0.15,0.2],[-0.1,0.15],[-0.05,0.1],[0,0.06],[0.1,0.02],[0.25,0]],
  [[-0.8,0],[-0.5,0.01],[-0.35,0.02],[-0.25,0.05],[-0.2,0.1],[-0.15,0.27],[-0.1,0.18],[-0.05,0.12],[0.05,0.05],[0.15,0.02],[0.3,0]],
  [[-1.1,0],[-0.8,0.01],[-0.55,0.015],[-0.4,0.03],[-0.3,0.05],[-0.2,0.08],[-0.15,0.15],[-0.1,0.22],[-0.05,0.14],[0,0.09],[0.1,0.04],[0.2,0.01],[0.35,0]],
  [[-0.9,0],[-0.6,0.008],[-0.4,0.02],[-0.3,0.04],[-0.2,0.06],[-0.15,0.1],[-0.1,0.13],[-0.05,0.2],[0,0.1],[0.05,0.08],[0.1,0.1],[0.2,0.03],[0.3,0.01],[0.45,0]],
  [[-1.0,0],[-0.7,0.01],[-0.5,0.02],[-0.35,0.04],[-0.25,0.08],[-0.2,0.16],[-0.15,0.24],[-0.1,0.12],[-0.05,0.07],[0.05,0.03],[0.2,0]],
  [[-0.7,0],[-0.45,0.015],[-0.3,0.03],[-0.2,0.05],[-0.15,0.09],[-0.1,0.17],[-0.05,0.16],[0,0.12],[0.05,0.06],[0.15,0.025],[0.3,0]],
  [[-1.2,0],[-1.0,0.008],[-0.8,0.006],[-0.6,0.012],[-0.4,0.02],[-0.3,0.03],[-0.2,0.07],[-0.15,0.12],[-0.1,0.1],[-0.05,0.08],[0.05,0.06],[0.15,0.05],[0.25,0.02],[0.4,0]],
  [[-0.75,0],[-0.5,0.012],[-0.35,0.025],[-0.25,0.04],[-0.2,0.08],[-0.15,0.14],[-0.1,0.28],[-0.05,0.18],[0,0.09],[0.1,0.04],[0.25,0]],
  [[-1.0,0],[-0.75,0.01],[-0.55,0.02],[-0.4,0.035],[-0.3,0.06],[-0.2,0.09],[-0.15,0.11],[-0.1,0.14],[-0.05,0.12],[0.05,0.07],[0.15,0.03],[0.3,0.01],[0.5,0]],
  [[-0.85,0],[-0.6,0.01],[-0.45,0.025],[-0.3,0.045],[-0.2,0.1],[-0.15,0.18],[-0.1,0.2],[-0.05,0.1],[0.05,0.04],[0.2,0.01],[0.35,0]],
  [[-0.9,0],[-0.6,0.01],[-0.45,0.02],[-0.35,0.04],[-0.25,0.07],[-0.2,0.11],[-0.15,0.17],[-0.1,0.15],[-0.05,0.11],[0,0.07],[0.1,0.03],[0.2,0.01],[0.35,0]],
  [[-1.3,0],[-1.1,0.005],[-0.9,0.008],[-0.7,0.01],[-0.5,0.018],[-0.35,0.03],[-0.25,0.05],[-0.2,0.09],[-0.15,0.13],[-0.1,0.16],[-0.05,0.13],[0,0.1],[0.05,0.07],[0.15,0.03],[0.3,0.01],[0.45,0]],
  [[-0.8,0],[-0.55,0.012],[-0.4,0.025],[-0.3,0.05],[-0.2,0.09],[-0.15,0.19],[-0.1,0.25],[-0.05,0.15],[0,0.08],[0.1,0.03],[0.25,0]],
  [[-1.0,0],[-0.7,0.008],[-0.5,0.015],[-0.35,0.03],[-0.25,0.06],[-0.2,0.13],[-0.15,0.16],[-0.1,0.18],[-0.05,0.1],[0.05,0.05],[0.15,0.02],[0.3,0]],
  [[-0.7,0],[-0.5,0.01],[-0.35,0.02],[-0.25,0.045],[-0.15,0.08],[-0.1,0.12],[-0.05,0.14],[0,0.13],[0.05,0.09],[0.1,0.06],[0.2,0.03],[0.35,0.01],[0.5,0]],
  [[-1.15,0],[-0.9,0.006],[-0.6,0.01],[-0.4,0.025],[-0.3,0.04],[-0.2,0.1],[-0.15,0.22],[-0.1,0.16],[-0.05,0.09],[0.05,0.05],[0.2,0.015],[0.35,0]]
]
const node8Gray = [
  [[-0.85,0],[-0.7,0.02],[-0.55,0.03],[-0.4,0.04],[-0.3,0.05],[-0.2,0.07],[-0.1,0.09],[0,0.12],[0.1,0.1],[0.2,0.07],[0.3,0.04],[0.45,0.02],[0.6,0.01],[0.8,0]],
  [[-0.7,0],[-0.5,0.015],[-0.35,0.03],[-0.25,0.05],[-0.15,0.06],[-0.05,0.08],[0.05,0.09],[0.15,0.195],[0.2,0.12],[0.3,0.07],[0.4,0.04],[0.55,0.02],[0.7,0]],
  [[-0.6,0],[-0.45,0.02],[-0.3,0.04],[-0.2,0.06],[-0.1,0.08],[0,0.15],[0.05,0.12],[0.15,0.1],[0.25,0.06],[0.35,0.03],[0.5,0.01],[0.65,0]],
  [[-0.8,0],[-0.6,0.01],[-0.45,0.025],[-0.3,0.03],[-0.15,0.05],[-0.05,0.07],[0.05,0.08],[0.15,0.09],[0.25,0.07],[0.35,0.05],[0.45,0.03],[0.55,0.04],[0.6,0.074],[0.7,0.02],[0.8,0]],
  [[-0.5,0],[-0.35,0.015],[-0.2,0.04],[-0.1,0.07],[0,0.11],[0.05,0.14],[0.1,0.12],[0.2,0.09],[0.3,0.05],[0.45,0.02],[0.6,0]],
  [[-0.75,0],[-0.55,0.02],[-0.4,0.035],[-0.3,0.05],[-0.2,0.06],[-0.1,0.06],[0,0.07],[0.1,0.08],[0.2,0.1],[0.3,0.09],[0.4,0.06],[0.5,0.03],[0.65,0.01],[0.8,0]],
  [[-0.65,0],[-0.5,0.01],[-0.35,0.025],[-0.25,0.04],[-0.15,0.055],[-0.05,0.09],[0.05,0.13],[0.1,0.16],[0.15,0.11],[0.25,0.06],[0.35,0.03],[0.5,0.01],[0.6,0]],
  [[-0.55,0],[-0.4,0.02],[-0.3,0.03],[-0.15,0.05],[-0.05,0.07],[0.05,0.1],[0.15,0.08],[0.25,0.08],[0.35,0.07],[0.45,0.04],[0.55,0.02],[0.7,0.005],[0.8,0]],
  [[-0.7,0],[-0.5,0.02],[-0.35,0.03],[-0.2,0.05],[-0.1,0.06],[0,0.09],[0.1,0.11],[0.2,0.08],[0.3,0.05],[0.4,0.03],[0.5,0.02],[0.65,0.005],[0.8,0]],
  [[-0.6,0],[-0.45,0.012],[-0.3,0.025],[-0.15,0.04],[-0.05,0.06],[0.05,0.08],[0.15,0.13],[0.25,0.1],[0.35,0.06],[0.45,0.03],[0.6,0.01],[0.75,0]],
  [[-0.8,0],[-0.65,0.015],[-0.5,0.025],[-0.35,0.04],[-0.25,0.045],[-0.1,0.05],[0,0.06],[0.1,0.07],[0.2,0.06],[0.3,0.05],[0.4,0.04],[0.5,0.04],[0.6,0.02],[0.8,0.005]]
]

const means = [node0Mean, node1Mean, node2Mean, node3Mean, node4Mean, node5Mean, node6Mean, node7Mean, node8Mean]
const reds = [node0Red, [], [], node3Red, [], node5Red, node6Red, node7Red, node8Red]
const grays = [node0Gray, node1Gray, node2Gray, node3Gray, node4Gray, node5Gray, node6Gray, node7Gray, node8Gray]

const FONT = '"Liberation Sans", Arial, sans-serif'
const TEXT = '#262626'
const EDGE = '#cccccc'
const colLeft = [111, 671, 1231]
const rowTop = [48, 460, 872]
const panelW = 518
const panelH = 321

function fmtX (v) {
  return v < 0 ? '\u2212' + Math.abs(v) : String(v)
}

let grids = [], xAxes = [], yAxes = [], series = [], graphics = []
for (let i = 0; i < 9; i++) {
  let r = Math.floor(i / 3), c = i % 3
  grids.push({
    left: colLeft[c], top: rowTop[r], width: panelW, height: panelH,
    show: true, borderColor: EDGE, borderWidth: 2.5, backgroundColor: '#fff'
  })
  xAxes.push({
    type: 'value', gridIndex: i, min: -2.5, max: 0.8,
    axisLine: { show: false },
    axisTick: { show: false, customValues: xTicks },
    splitLine: { show: true, lineStyle: { color: EDGE, width: 2 } },
    axisLabel: {
      show: r === 2, customValues: xTicks, formatter: fmtX,
      fontFamily: FONT, fontSize: 32, color: TEXT, margin: 19
    }
  })
  yAxes.push({
    type: 'value', gridIndex: i, min: -0.026, max: 0.545,
    axisLine: { show: false },
    axisTick: { show: false, customValues: yTicks },
    splitLine: { show: true, lineStyle: { color: EDGE, width: 2 } },
    axisLabel: {
      show: c === 0, customValues: yTicks, formatter: v => v.toFixed(1),
      fontFamily: FONT, fontSize: 32, color: TEXT, margin: 22
    }
  })
  grays[i].forEach(line => series.push({
    type: 'line', xAxisIndex: i, yAxisIndex: i, data: line,
    showSymbol: false, silent: true, z: 2,
    lineStyle: { color: 'rgba(100,100,100,0.38)', width: 1.4 }
  }))
  reds[i].forEach(line => series.push({
    type: 'line', xAxisIndex: i, yAxisIndex: i, data: line,
    showSymbol: false, silent: true, z: 3,
    lineStyle: { color: 'rgba(214,39,40,0.75)', width: 1.6 }
  }))
  series.push({
    type: 'line', xAxisIndex: i, yAxisIndex: i, data: means[i],
    showSymbol: false, silent: true, z: 4,
    lineStyle: { color: '#000', width: 7, join: 'round' }
  })
  graphics.push({
    type: 'text', x: colLeft[c] + panelW / 2, y: rowTop[r] - 30,
    style: { text: titles[i], font: '37px ' + FONT, fill: TEXT, textAlign: 'center', textVerticalAlign: 'middle' }
  })
}
graphics.push({
  type: 'text', x: colLeft[1] + panelW / 2, y: 1272,
  style: { text: 'dz (m/a)', font: '35px ' + FONT, fill: TEXT, textAlign: 'center', textVerticalAlign: 'middle' }
})
graphics.push({
  type: 'text', x: 15, y: 620, rotation: Math.PI / 2,
  style: { text: 'Frequency', font: '35px ' + FONT, fill: TEXT, textAlign: 'center', textVerticalAlign: 'middle' }
})

const chart = echarts.init(document.getElementById('main'))
chart.setOption({
  animation: false,
  backgroundColor: '#fff',
  grid: grids,
  xAxis: xAxes,
  yAxis: yAxes,
  series: series,
  graphic: graphics
})
</script>
</body>
</html>
